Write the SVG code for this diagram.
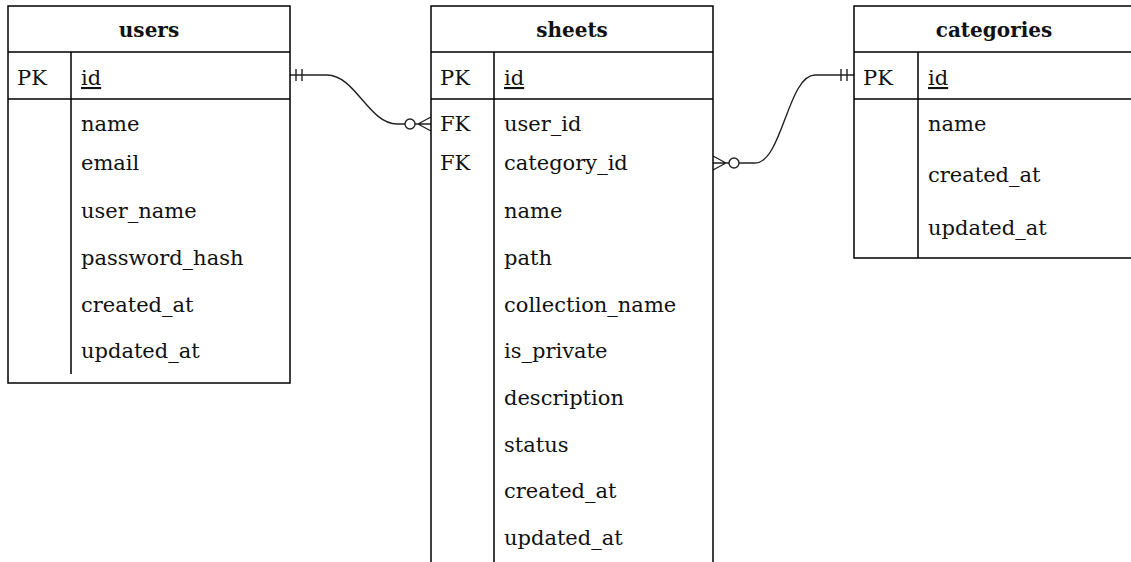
<svg xmlns="http://www.w3.org/2000/svg" width="1131" height="562" viewBox="0 0 1131 562">
<style>
.box{fill:#fff;stroke:#000;stroke-width:1.5}
.ln{fill:none;stroke:#000;stroke-width:1.5}
.t{font-family:"DejaVu Serif","Liberation Serif",serif;font-size:21px;fill:#111}
.h{font-family:"DejaVu Serif","Liberation Serif",serif;font-size:20px;font-weight:bold;fill:#111;text-anchor:middle}
.u{text-decoration:underline}
.c{fill:none;stroke:#222;stroke-width:1.4}
.o{fill:#fff;stroke:#222;stroke-width:1.4}
</style>
<rect width="1131" height="562" fill="#fff"/>
<g id="connectors">
  <g id="users-sheets">
    <path class="c" d="M290,75 H327 C355,75 369,124 397,124 H405"/>
    <path class="c" d="M296,69 V81 M302,69 V81"/>
    <circle class="o" cx="410" cy="124" r="5"/>
    <path class="c" d="M415,124 H431 M418,124 L431,117 M418,124 L431,131"/>
  </g>
  <g id="sheets-categories">
    <path class="c" d="M739,163 H755 C782,163 788,75 815,75 H854"/>
    <path class="c" d="M841,69 V81 M847,69 V81"/>
    <circle class="o" cx="734" cy="163" r="5"/>
    <path class="c" d="M713,163 H729 M726,163 L713,156 M726,163 L713,170"/>
  </g>
</g>
<g id="users">
  <rect class="box" x="8" y="6" width="282" height="377"/>
  <path class="ln" d="M8,52 H290 M8,99 H290 M71,52 V374"/>
  <text class="h" x="149" y="37">users</text>
  <text class="t" x="17" y="85">PK</text>
  <text class="t u" x="81" y="85">id</text>
  <text class="t" x="81" y="131">name</text>
  <text class="t" x="81" y="170">email</text>
  <text class="t" x="81" y="218">user_name</text>
  <text class="t" x="81" y="265">password_hash</text>
  <text class="t" x="81" y="312">created_at</text>
  <text class="t" x="81" y="358">updated_at</text>
</g>
<g id="sheets">
  <rect class="box" x="431" y="6" width="282" height="570"/>
  <path class="ln" d="M431,52 H713 M431,99 H713 M494,52 V562"/>
  <text class="h" x="572" y="37">sheets</text>
  <text class="t" x="440" y="85">PK</text>
  <text class="t u" x="504" y="85">id</text>
  <text class="t" x="440" y="131">FK</text>
  <text class="t" x="504" y="131">user_id</text>
  <text class="t" x="440" y="170">FK</text>
  <text class="t" x="504" y="170">category_id</text>
  <text class="t" x="504" y="218">name</text>
  <text class="t" x="504" y="265">path</text>
  <text class="t" x="504" y="312">collection_name</text>
  <text class="t" x="504" y="358">is_private</text>
  <text class="t" x="504" y="405">description</text>
  <text class="t" x="504" y="452">status</text>
  <text class="t" x="504" y="498">created_at</text>
  <text class="t" x="504" y="545">updated_at</text>
</g>
<g id="categories">
  <rect class="box" x="854" y="6" width="282" height="252"/>
  <path class="ln" d="M854,52 H1136 M854,99 H1136 M918,52 V258"/>
  <text class="h" x="994" y="37">categories</text>
  <text class="t" x="863" y="85">PK</text>
  <text class="t u" x="928" y="85">id</text>
  <text class="t" x="928" y="131">name</text>
  <text class="t" x="928" y="182">created_at</text>
  <text class="t" x="928" y="235">updated_at</text>
</g>
</svg>
